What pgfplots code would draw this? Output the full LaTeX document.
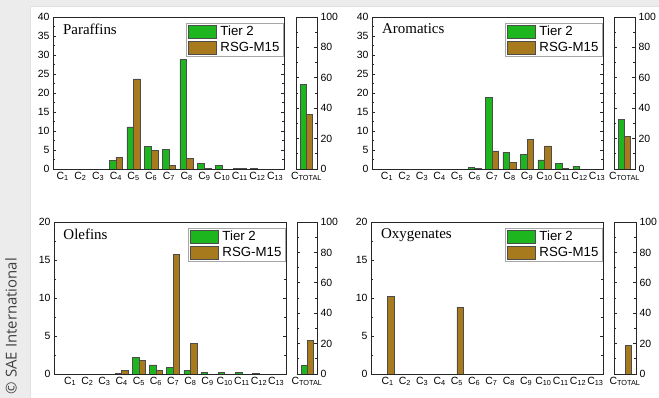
\documentclass[border=0pt]{standalone}
\usepackage{fontspec}
\setmainfont{Liberation Sans}
\newfontfamily\tnr{Liberation Serif}
\newfontfamily\osans{Open Sans}
\usepackage{pgfplots}
\pgfplotsset{compat=1.18}
\definecolor{tgreen}{RGB}{30,182,30}
\definecolor{tbrown}{RGB}{168,122,30}
\definecolor{bgray}{RGB}{236,236,236}
\tikzset{ttl/.style={anchor=north west, inner sep=0pt, font=\tnr\fontsize{15}{16}\selectfont}}
\pgfplotsset{
  mylegend/.style={legend image code/.code={\draw[##1,line width=0.6bp] (0bp,-6.5bp) rectangle (28bp,6.5bp);}},
  base/.style={scale only axis, height=152bp, ymin=0, tick align=inside,
    axis line style={black!85,line width=0.7bp},
    every tick/.style={black!85,line width=0.6bp},
    major tick length=3bp, minor tick length=1.8bp,
    xtick style={draw=none},
    /pgf/number format/assume math mode=true,
    yticklabel style={font=\fontsize{10.5}{11}\selectfont},
    xticklabel style={font=\fontsize{10.5}{11}\selectfont, inner sep=2.5bp},
    minor y tick num=1},
  main/.style={base, width=231bp,
    xtick={1,...,13},
    xticklabels={C\textsubscript{1},C\textsubscript{2},C\textsubscript{3},C\textsubscript{4},C\textsubscript{5},C\textsubscript{6},C\textsubscript{7},C\textsubscript{8},C\textsubscript{9},C\textsubscript{10},C\textsubscript{11},C\textsubscript{12},C\textsubscript{13}},
    yticklabel pos=left, ytick pos=both,
    legend cell align=left,
    legend style={at={(axis description cs:0.996,0.96)}, anchor=north east,
      draw=gray!70, fill=white, font=\fontsize{13.3}{14}\selectfont,
      inner xsep=2bp, inner ysep=1.5bp, row sep=2bp,
      nodes={inner sep=1.5bp},
      /tikz/every odd column/.append style={column sep=2.5bp}}},
  tot/.style={base, width=21bp, xmin=0.5, xmax=1.5, ymax=100, ytick={0,20,...,100},
    xtick={1}, xticklabels={C\textsubscript{TOTAL}},
    yticklabel pos=right, ytick pos=both},
  tier/.style={ybar, bar width=0.38, bar shift=-0.19, fill=tgreen, draw=black!70, line width=0.5bp, mylegend},
  rsg/.style={ybar, bar width=0.38, bar shift=0.19, fill=tbrown, draw=black!70, line width=0.5bp, mylegend},
  tiert/.style={tier, bar width=0.29, bar shift=-0.145},
  rsgt/.style={rsg, bar width=0.29, bar shift=0.145},
}
\begin{document}
\begin{tikzpicture}
\path[use as bounding box] (0,0) rectangle (659bp,398bp);
\fill[bgray] (0,0) rectangle (659bp,398bp);
\fill[white] (30bp,0) rectangle (659bp,391bp);
\draw[black!12,line width=1bp] (30bp,0) -- (30bp,391bp) -- (659bp,391bp);
\node[rotate=90, font=\osans\fontsize{15}{17}\selectfont, text=black!75] at (11bp,72bp) {© SAE International};

% Paraffins
\begin{axis}[main, at={(53bp,229bp)}, anchor=south west, xmin=0.45, xmax=13.5, ymax=40, ytick={0,5,...,40}]
\addplot[tier] coordinates {(4,2.2) (5,11.1) (6,6.0) (7,5.1) (8,28.8) (9,1.5) (10,0.9) (11,0.2) (12,0.2)};
\addplot[rsg] coordinates {(4,3.0) (5,23.7) (6,4.9) (7,0.9) (8,2.8) (9,0.2) (11,0.1)};
\legend{Tier 2,RSG-M15}
\node[ttl] at (axis description cs:0.043,0.955) {Paraffins};
\end{axis}
\begin{axis}[tot, at={(296bp,229bp)}, anchor=south west]
\addplot[tiert] coordinates {(1,55.9)};
\addplot[rsgt] coordinates {(1,35.7)};
\end{axis}

% Aromatics
\begin{axis}[main, at={(372bp,229bp)}, anchor=south west, xmin=0.14, xmax=13.34, ymax=40, ytick={0,5,...,40}]
\addplot[tier] coordinates {(6,0.4) (7,18.9) (8,4.4) (9,3.9) (10,2.4) (11,1.4) (12,0.7)};
\addplot[rsg] coordinates {(6,0.2) (7,4.8) (8,1.8) (9,7.8) (10,6.1) (11,0.2)};
\legend{Tier 2,RSG-M15}
\node[ttl] at (axis description cs:0.043,0.955) {Aromatics};
\end{axis}
\begin{axis}[tot, at={(614bp,229bp)}, anchor=south west]
\addplot[tiert] coordinates {(1,32.5)};
\addplot[rsgt] coordinates {(1,21.3)};
\end{axis}

% Olefins
\begin{axis}[main, at={(54bp,24bp)}, anchor=south west, width=232bp, xmin=0.06, xmax=13.57, ymax=20, ytick={0,5,...,20}]
\addplot[tier] coordinates {(4,0.1) (5,2.2) (6,1.2) (7,0.9) (8,0.45) (9,0.2) (10,0.2) (11,0.2) (12,0.1)};
\addplot[rsg] coordinates {(4,0.45) (5,1.75) (6,0.45) (7,15.7) (8,4.0)};
\legend{Tier 2,RSG-M15}
\node[ttl] at (axis description cs:0.04,0.955) {Olefins};
\end{axis}
\begin{axis}[tot, at={(297bp,24bp)}, anchor=south west, width=20bp]
\addplot[tiert] coordinates {(1,5.5)};
\addplot[rsgt] coordinates {(1,22)};
\end{axis}

% Oxygenates
\begin{axis}[main, at={(371bp,24bp)}, anchor=south west, width=232bp, xmin=0.04, xmax=13.44, ymax=20, ytick={0,5,...,20}]
\addlegendimage{tier}
\addplot[rsg] coordinates {(1,10.2) (5,8.8)};
\legend{Tier 2,RSG-M15}
\node[ttl] at (axis description cs:0.043,0.955) {Oxygenates};
\end{axis}
\begin{axis}[tot, at={(614bp,24bp)}, anchor=south west, width=22bp]
\addplot[rsgt] coordinates {(1,19)};
\end{axis}
\end{tikzpicture}
\end{document}
